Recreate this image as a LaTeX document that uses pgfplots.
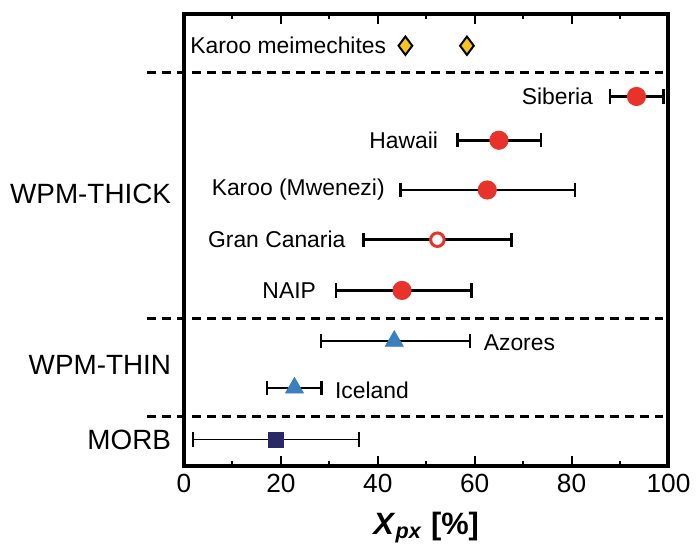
\documentclass[border=0pt]{standalone}
\usepackage{fontspec}
\setmainfont{Liberation Sans}
\usepackage{pgfplots}
\pgfplotsset{compat=1.18}
\definecolor{ptred}{HTML}{E8322A}
\definecolor{ptgold}{HTML}{F5C41E}
\definecolor{ptblue}{HTML}{3A7FBE}
\definecolor{ptnavy}{HTML}{2A2866}
\begin{document}
\begin{tikzpicture}
\begin{axis}[
  scale only axis,
  width=243.5pt, height=227pt,
  xmin=0, xmax=100, ymin=0, ymax=454,
  clip=false,
  axis line style={line width=2pt},
  xtick={0,20,...,100},
  minor x tick num=1,
  ytick=\empty,
  tick align=inside,
  xtick pos=both,
  major tick length=5pt,
  minor tick length=2.5pt,
  every tick/.style={black, line width=1pt},
  /pgf/number format/assume math mode=true,
  ticklabel style={font=\fontsize{13.2}{15}\selectfont},
  xticklabel style={yshift=-1pt},
  xlabel={\textbf{\textit{X}\textsubscript{\textit{px}} [\%]}},
  xlabel style={font=\fontsize{15.5}{17}\selectfont, at={(axis description cs:0.5,-0.137)}, anchor=center},
]
% invisible frame to match margins
\path (rel axis cs:-0.3799,-0.1784) (rel axis cs:1.0513,1.0308);

% separators
\addplot[black, line width=1.3pt, dash pattern=on 4.5pt off 3pt] coordinates {(-7.6,395) (99.2,395)};
\addplot[black, line width=1.3pt, dash pattern=on 4.5pt off 3pt] coordinates {(-7.6,148) (99.2,148)};
\addplot[black, line width=1.3pt, dash pattern=on 4.5pt off 3pt] coordinates {(-7.6,49) (99.2,49)};

% Karoo meimechites
\addplot[only marks, mark=diamond*, mark size=4.6pt, mark options={fill=ptgold, draw=black, line width=1pt}]
  coordinates {(45.7,422) (58.4,422)};

% WPM-THICK filled red circles
\addplot[only marks, mark=*, mark size=4.6pt, mark options={fill=ptred, draw=ptred},
  error bars/.cd, x dir=both, x explicit,
  error bar style={black, line width=1.3pt},
  error mark=|, error mark options={black, line width=1.3pt, mark size=3.6pt}]
  table[x=x, y=y, x error plus=ep, x error minus=em] {
x y ep em
93.4 371 5.6 5.5
65.0 327 8.7 8.6
62.6 277 18.1 17.9
45.0 176 14.3 13.6
};

% Gran Canaria open circle
\addplot[only marks, mark=*, mark size=3.4pt, mark options={fill=white, draw=ptred, line width=1.5pt},
  error bars/.cd, x dir=both, x explicit,
  error bar style={black, line width=1.3pt},
  error mark=|, error mark options={black, line width=1.3pt, mark size=3.6pt}]
  table[x=x, y=y, x error plus=ep, x error minus=em] {
x y ep em
52.3 227 15.3 15.2
};

% WPM-THIN triangles
\addplot[only marks, mark=triangle*, mark size=5.2pt, mark options={fill=ptblue, draw=ptblue},
  error bars/.cd, x dir=both, x explicit,
  error bar style={black, line width=1.3pt},
  error mark=|, error mark options={black, line width=1.3pt, mark size=3.6pt}]
  table[x=x, y=y, x error plus=ep, x error minus=em] {
x y ep em
43.4 125 15.6 15.1
22.8 78 5.6 5.7
};

% MORB square
\addplot[only marks, mark=square*, mark size=3.8pt, mark options={fill=ptnavy, draw=ptnavy},
  error bars/.cd, x dir=both, x explicit,
  error bar style={black, line width=0.8pt},
  error mark=|, error mark options={black, line width=0.9pt, mark size=3.6pt}]
  table[x=x, y=y, x error plus=ep, x error minus=em] {
x y ep em
19.0 26 17.1 17.2
};

% point labels
\begin{scope}[every node/.style={font=\fontsize{11.5}{13}\selectfont, inner sep=0pt}]
\node[anchor=east] at (axis cs:41.8,422) {Karoo meimechites};
\node[anchor=east] at (axis cs:84.5,371) {Siberia};
\node[anchor=east] at (axis cs:52.5,327) {Hawaii};
\node[anchor=east] at (axis cs:41.5,277) {Karoo (Mwenezi)};
\node[anchor=east] at (axis cs:33.4,227) {Gran Canaria};
\node[anchor=east] at (axis cs:27.3,176) {NAIP};
\node[anchor=west] at (axis cs:61.8,123) {Azores};
\node[anchor=west] at (axis cs:31.1,76) {Iceland};
\end{scope}

% group labels
\begin{scope}[every node/.style={font=\fontsize{14}{16}\selectfont, inner sep=0pt}]
\node[anchor=east] at (axis cs:-2.6,273) {WPM-THICK};
\node[anchor=east] at (axis cs:-2.6,101) {WPM-THIN};
\node[anchor=east] at (axis cs:-2.6,26) {MORB};
\end{scope}
\end{axis}
\end{tikzpicture}
\end{document}
